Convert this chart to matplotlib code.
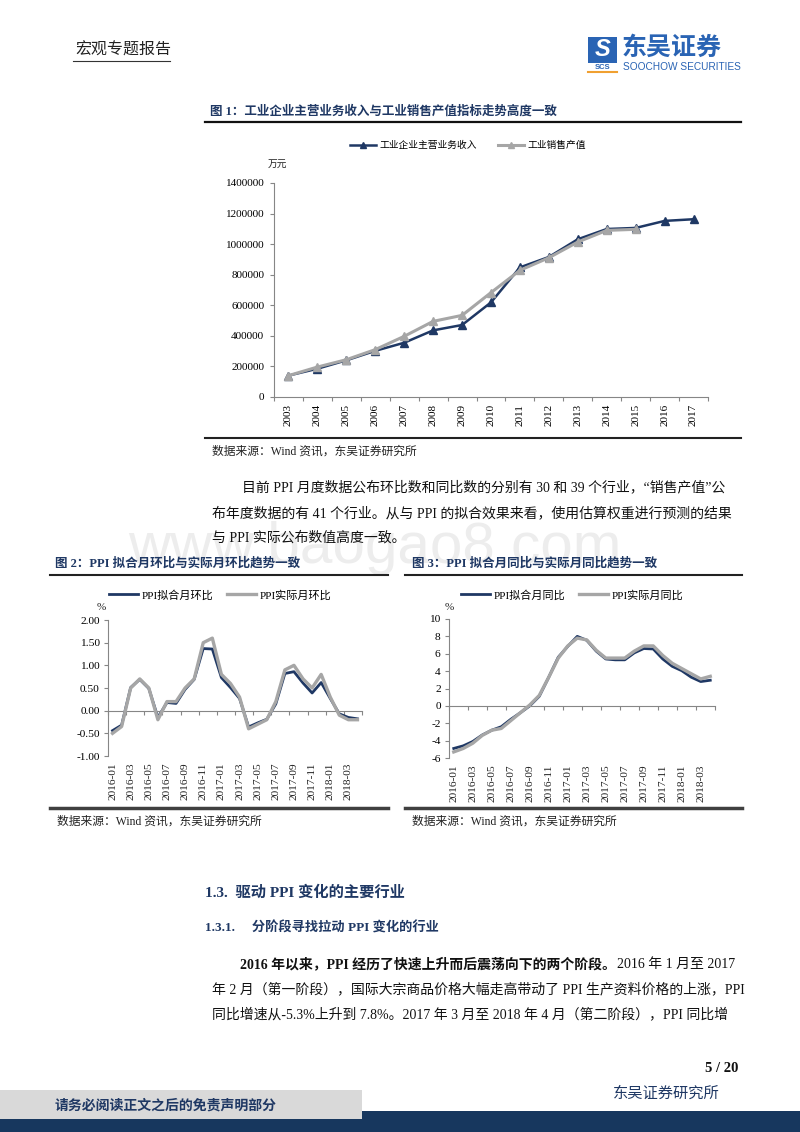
import numpy as np
import matplotlib
matplotlib.use('Agg')
import matplotlib.pyplot as plt
import matplotlib.transforms as mtransforms
from matplotlib.patches import Rectangle
from matplotlib.lines import Line2D
from matplotlib.ticker import FuncFormatter

plt.rcParams['font.family'] = ['Liberation Serif', 'Noto Sans CJK SC']
plt.rcParams['axes.unicode_minus'] = False

# chart 1 data (万元)
years = ['2003', '2004', '2005', '2006', '2007', '2008', '2009', '2010',
         '2011', '2012', '2013', '2014', '2015', '2016', '2017']
revenue = [140000, 185000, 240000, 302000, 355000, 436000, 471000, 619000,
           848000, 916000, 1032000, 1099000, 1106000, 1152000, 1163000]
sales = [140000, 196000, 244000, 310000, 397000, 495000, 534000, 683000,
         829000, 911000, 1014000, 1090000, 1097000]

# chart 2 / 3 data (%), 2016-01 .. 2018-04
months = ['%d-%02d' % (y, m) for y in (2016, 2017, 2018) for m in range(1, 13)][:28]
mom_fit = [-0.44, -0.32, 0.51, 0.69, 0.49, -0.15, 0.18, 0.16, 0.47, 0.69, 1.37, 1.36,
           0.73, 0.51, 0.27, -0.36, -0.27, -0.19, 0.15, 0.82, 0.86, 0.61, 0.39, 0.62,
           0.27, -0.07, -0.15, -0.18]
mom_act = [-0.50, -0.35, 0.50, 0.70, 0.50, -0.20, 0.20, 0.20, 0.50, 0.70, 1.50, 1.60,
           0.80, 0.60, 0.30, -0.40, -0.30, -0.20, 0.20, 0.90, 1.00, 0.70, 0.50, 0.80,
           0.30, -0.10, -0.20, -0.20]
yoy_fit = [-4.9, -4.6, -4.1, -3.35, -2.8, -2.4, -1.55, -0.8, 0.0, 1.1, 3.3, 5.6,
           6.85, 8.0, 7.55, 6.3, 5.4, 5.3, 5.3, 6.1, 6.6, 6.55, 5.4, 4.55,
           4.05, 3.3, 2.8, 2.95]
yoy_act = [-5.3, -4.9, -4.3, -3.4, -2.8, -2.6, -1.7, -0.8, 0.1, 1.2, 3.3, 5.5,
           6.9, 7.8, 7.6, 6.4, 5.5, 5.5, 5.5, 6.3, 6.9, 6.9, 5.8, 4.9,
           4.3, 3.7, 3.1, 3.4]

NAVY = '#1f3864'
GRAY = '#a6a6a6'
SPINE = '#868686'
W, H = 800, 1132
BODY = 10.0

fig = plt.figure(figsize=(8, 11.32), dpi=100)


def txt(x, y, s, **kw):
    kw.setdefault('va', 'center')
    return fig.text(x / W, 1 - y / H, s, **kw)


def hline(x0, x1, y, color='#222222', lw=1.5):
    fig.add_artist(Line2D([x0 / W, x1 / W], [1 - y / H, 1 - y / H], color=color, lw=lw))


def axes_px(left, top, right, bottom):
    return fig.add_axes([left / W, 1 - bottom / H, (right - left) / W, (bottom - top) / H])


# watermark (behind everything)
txt(375, 548, 'www.baogao8.com', fontsize=42, color='#ededed', ha='center',
    family='Liberation Sans', zorder=0)

# header
txt(75, 50, '宏观专题报告', fontsize=11.5, color='#222222', family='Noto Sans CJK SC')
hline(73, 170, 61, color='#333333', lw=0.8)
fig.add_artist(Rectangle((588 / W, 1 - 63 / H), 29 / W, 26 / H, color='#2a64b4', lw=0))
txt(602.5, 50, 'S', fontsize=17, color='white', ha='center', fontweight='bold',
    family='Liberation Sans', style='italic')
txt(602.5, 67.5, 'SCS', fontsize=5.5, color='#2a64b4', ha='center', fontweight='bold',
    family='Liberation Sans')
hline(588, 617, 71.5, color='#f0a030', lw=1.5)
txt(622, 48, '东吴证券', fontsize=18, color='#2a64b4', fontweight='bold',
    family='Noto Sans CJK SC')
txt(623, 67.5, 'SOOCHOW SECURITIES', fontsize=7.3, color='#2a64b4', family='Liberation Sans')

# figure 1 title
txt(210, 111, '图 1：工业企业主营业务收入与工业销售产值指标走势高度一致', fontsize=9,
    color=NAVY, fontweight='bold')
hline(205, 741, 122, color='#111111', lw=1.6)

# chart 1
ax1 = axes_px(274, 183, 708, 397)
x1 = np.arange(len(years))
ax1.plot(x1[:len(revenue)], revenue, color=NAVY, lw=1.8, marker='^', ms=5.5, zorder=2)
ax1.plot(x1[:len(sales)], sales, color=GRAY, lw=2.2, marker='^', ms=6, zorder=3)
ax1.set_xlim(-0.5, len(years) - 0.5)
ax1.set_ylim(0, 1400000)
ax1.set_yticks(np.arange(0, 1400001, 200000))
ax1.yaxis.set_major_formatter(FuncFormatter(lambda v, p: '%d' % v))
ax1.set_xticks(np.arange(-0.5, len(years), 1))
ax1.set_xticklabels([])
ax1.set_xticks(x1, minor=True)
ax1.set_xticklabels(years, minor=True, rotation=90, fontsize=8)
ax1.tick_params(axis='x', which='minor', length=0, pad=5)
ax1.tick_params(axis='x', which='major', length=3, color=SPINE)
ax1.tick_params(axis='y', length=3, color=SPINE, labelsize=8, pad=4)
for s in ['top', 'right']:
    ax1.spines[s].set_visible(False)
for s in ['left', 'bottom']:
    ax1.spines[s].set_color(SPINE)
txt(268, 164, '万元', fontsize=7, color='#222222', family='Noto Sans CJK SC')
h1 = [Line2D([], [], color=NAVY, lw=1.8, marker='^', ms=5),
      Line2D([], [], color=GRAY, lw=2.2, marker='^', ms=5)]
fig.legend(h1, ['工业企业主营业务收入', '工业销售产值'], loc='center',
           bbox_to_anchor=(468 / W, 1 - 145 / H), ncol=2, frameon=False,
           prop={'family': 'Noto Sans CJK SC', 'size': 7}, handlelength=2.7,
           handletextpad=0.3, columnspacing=2.2)

hline(205, 741, 438, color='#222222', lw=1.5)
txt(212, 452, '数据来源：Wind 资讯，东吴证券研究所', fontsize=8.5, color='#222222')

# paragraph
txt(242, 487, '目前 PPI 月度数据公布环比数和同比数的分别有 30 和 39 个行业，“销售产值”公',
    fontsize=BODY, color='#111111')
txt(212, 513, '布年度数据的有 41 个行业。从与 PPI 的拟合效果来看，使用估算权重进行预测的结果',
    fontsize=BODY, color='#111111')
txt(212, 538, '与 PPI 实际公布数值高度一致。', fontsize=BODY, color='#111111')

# figure 2/3 titles
txt(55, 563, '图 2：PPI 拟合月环比与实际月环比趋势一致', fontsize=9, color=NAVY, fontweight='bold')
txt(412, 563, '图 3：PPI 拟合月同比与实际月同比趋势一致', fontsize=9, color=NAVY, fontweight='bold')
hline(50, 388, 575, color='#222222', lw=1.5)
hline(405, 742, 575, color='#222222', lw=1.5)


def monthly_chart(box, fit, act, ylim, step, fmt, labels, fit_name, act_name, leg_x, pct_x):
    ax = axes_px(*box)
    xs = np.arange(len(labels))
    ax.plot(xs, fit, color=NAVY, lw=2.0, zorder=2)
    ax.plot(xs, act, color=GRAY, lw=2.4, zorder=3)
    ax.set_xlim(-0.5, len(labels) - 0.5)
    ax.set_ylim(*ylim)
    ax.set_yticks(np.arange(ylim[0], ylim[1] + step / 2, step))
    ax.yaxis.set_major_formatter(FuncFormatter(lambda v, p: fmt % v))
    ax.spines['bottom'].set_position(('data', 0))
    for s in ['top', 'right']:
        ax.spines[s].set_visible(False)
    for s in ['left', 'bottom']:
        ax.spines[s].set_color(SPINE)
    ax.set_xticks(np.arange(-0.5, len(labels), 2))
    ax.set_xticklabels([])
    ax.tick_params(axis='x', length=3, color=SPINE)
    ax.tick_params(axis='y', length=3, color=SPINE, labelsize=8.2, pad=3)
    trans = mtransforms.blended_transform_factory(ax.transData, ax.transAxes)
    off = 6.5 / (box[3] - box[1])
    for i in range(0, len(labels), 2):
        ax.text(i, -off, labels[i], rotation=90, ha='center', va='top', fontsize=8.2,
                transform=trans, color='#222222')
    txt(pct_x, 608, '%', fontsize=8, color='#222222', ha='center')
    hs = [Line2D([], [], color=NAVY, lw=2.0), Line2D([], [], color=GRAY, lw=2.4)]
    fig.legend(hs, [fit_name, act_name], loc='center', bbox_to_anchor=(leg_x / W, 1 - 595 / H),
               ncol=2, frameon=False, prop={'size': 8}, handlelength=2.6,
               handletextpad=0.35, columnspacing=1.2)
    return ax


monthly_chart((108, 620, 362, 756), mom_fit, mom_act, (-1.0, 2.0), 0.5, '%.2f', months,
              'PPI拟合月环比', 'PPI实际月环比', 220, 101)
monthly_chart((449, 619, 715, 758), yoy_fit, yoy_act, (-6, 10), 2, '%d', months,
              'PPI拟合月同比', 'PPI实际月同比', 572, 449)

hline(50, 388, 808, color='#404040', lw=2.5)
hline(405, 742, 808, color='#404040', lw=2.5)
txt(57, 822, '数据来源：Wind 资讯，东吴证券研究所', fontsize=8.5, color='#222222')
txt(412, 822, '数据来源：Wind 资讯，东吴证券研究所', fontsize=8.5, color='#222222')

# section headings
txt(205, 893, '1.3.  驱动 PPI 变化的主要行业', fontsize=11, color=NAVY, fontweight='bold')
txt(205, 928, '1.3.1.     分阶段寻找拉动 PPI 变化的行业', fontsize=9.5, color=NAVY, fontweight='bold')

bold_part = txt(240, 964, '2016 年以来，PPI 经历了快速上升而后震荡向下的两个阶段。',
                fontsize=BODY, color='#111111', fontweight='bold')
renderer = fig.canvas.get_renderer()
bb = bold_part.get_window_extent(renderer)
txt(bb.x1 + 1, 964, '2016 年 1 月至 2017', fontsize=BODY, color='#111111')
txt(212, 989, '年 2 月（第一阶段），国际大宗商品价格大幅走高带动了 PPI 生产资料价格的上涨，PPI',
    fontsize=BODY, color='#111111')
txt(212, 1014, '同比增速从-5.3%上升到 7.8%。2017 年 3 月至 2018 年 4 月（第二阶段），PPI 同比增',
    fontsize=BODY, color='#111111')

txt(738, 1068, '5 / 20', fontsize=10.5, color='#111111', ha='right', fontweight='bold')

# footer
fig.add_artist(Rectangle((0, 0), 1, 21 / H, color='#17375e', lw=0))
fig.add_artist(Rectangle((0, 1 - 1119 / H), 362 / W, 29 / H, color='#d9d9d9', lw=0))
txt(55, 1106, '请务必阅读正文之后的免责声明部分', fontsize=10, color=NAVY, fontweight='bold')
txt(613, 1094, '东吴证券研究所', fontsize=11, color=NAVY)

fig.savefig('out.png', dpi=100)
